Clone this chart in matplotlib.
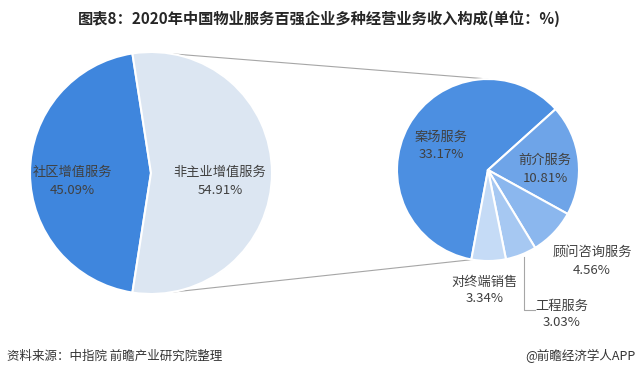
import numpy as np
import matplotlib
matplotlib.use("Agg")
import matplotlib.pyplot as plt

plt.rcParams['font.family'] = ['Noto Sans CJK SC', 'DejaVu Sans']

title = "图表8：2020年中国物业服务百强企业多种经营业务收入构成(单位：%)"
main_labels = ["社区增值服务", "非主业增值服务"]
main_values = [45.09, 54.91]
sub_labels = ["案场服务", "前介服务", "顾问咨询服务", "工程服务", "对终端销售"]
sub_values = [33.17, 10.81, 4.56, 3.03, 3.34]
source = "资料来源：中指院 前瞻产业研究院整理"
credit = "@前瞻经济学人APP"

W, H = 639, 386
fig = plt.figure(figsize=(W / 100, H / 100), dpi=100)
ax = fig.add_axes([0, 0, 1, 1])
ax.set_xlim(0, W)
ax.set_ylim(0, H)
ax.set_aspect('equal')
ax.axis('off')

def py(y):
    return H - y

# left pie
lc = (151, py(173)); lr = 121
main_colors = ["#3f86dd", "#dce6f2"]
start_l = 180 - main_values[0] / sum(main_values) * 180
ax.pie(main_values, colors=main_colors, center=lc, radius=lr, startangle=start_l,
       wedgeprops=dict(edgecolor='white', linewidth=1.5), frame=True)

# right pie
rc = (488, py(170)); rr = 91
sub_colors = ["#4c8fe1", "#6ea4e8", "#8bb7ee", "#a6c8f2", "#c5dbf6"]
start_r = 42 + sub_values[0] / sum(sub_values) * 360
ax.pie(sub_values, colors=sub_colors, center=rc, radius=rr, startangle=start_r,
       counterclock=False, wedgeprops=dict(edgecolor='white', linewidth=1.5), frame=True)
ax.set_xlim(0, W)
ax.set_ylim(0, H)
ax.axis('off')

# connector lines
def pt(c, r, ang):
    a = np.deg2rad(ang)
    return c[0] + r * np.cos(a), c[1] + r * np.sin(a)

for la, ra in [(80, 90), (-80, -100)]:
    p1 = pt(lc, lr, la); p2 = pt(rc, rr, ra)
    ax.plot([p1[0], p2[0]], [p1[1], p2[1]], color="#a6a6a6", lw=0.8, zorder=0)

tc = "#404040"
fs = 9.5
def lab(x, y, name, val, dy=18):
    ax.text(x, py(y), name, ha='center', va='center', fontsize=fs, color=tc)
    ax.text(x, py(y + dy), f"{val:.2f}%", ha='center', va='center', fontsize=fs, color=tc)

lab(72, 172, main_labels[0], main_values[0], 19)
lab(220, 172, main_labels[1], main_values[1], 19)
lab(441, 137, sub_labels[0], sub_values[0], 17)
lab(545, 160, sub_labels[1], sub_values[1])
lab(592, 252, sub_labels[2], sub_values[2])
lab(562, 306, sub_labels[3], sub_values[3], 17)
lab(485, 282, sub_labels[4], sub_values[4], 17)

# leader line for 工程服务
ax.plot([524, 524, 535], [py(257), py(310), py(310)], color="#a6a6a6", lw=0.8)

fig.text(0.5, 1 - 19 / H, title, ha='center', va='center', fontsize=11,
         fontweight='bold', color="#262626")
fig.text(7 / W, 1 - 356 / H, source, ha='left', va='center', fontsize=9, color="#333333")
fig.text(636 / W, 1 - 356 / H, credit, ha='right', va='center', fontsize=9, color="#333333")

fig.savefig("out.png", dpi=100)
